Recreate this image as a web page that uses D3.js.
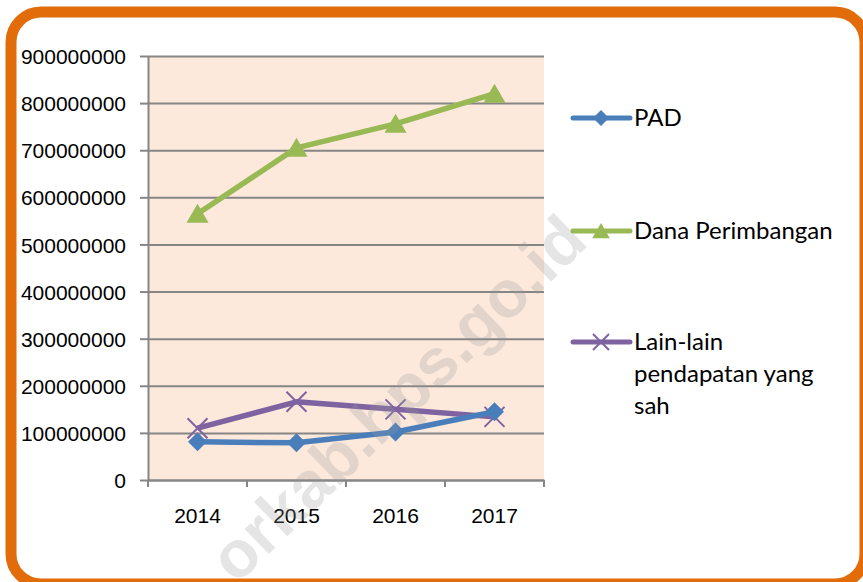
<!DOCTYPE html>
<html>
<head>
<meta charset="utf-8">
<script src="https://cdn.jsdelivr.net/npm/d3@7"></script>
<style>
  body { margin: 0; background: #fff; }
  svg { display: block; font-family: Lato, "Liberation Sans", sans-serif; }
</style>
</head>
<body>
<svg width="863" height="582"></svg>
<script>
var years = ["2014", "2015", "2016", "2017"];
var pad = [81000000, 79000000, 102000000, 145000000];
var danaPerimbangan = [565000000, 705000000, 756000000, 820000000];
var lainLain = [110000000, 166000000, 150000000, 134000000];
var yTicks = [0, 100000000, 200000000, 300000000, 400000000, 500000000, 600000000, 700000000, 800000000, 900000000];

var series = [
  {name: ["PAD"], values: pad, color: "#4a7ebb", marker: "diamond"},
  {name: ["Dana Perimbangan"], values: danaPerimbangan, color: "#98b954", marker: "triangle"},
  {name: ["Lain-lain", "pendapatan yang", "sah"], values: lainLain, color: "#7f63a1", marker: "cross"}
];

var svg = d3.select("svg");
var plot = {left: 148, right: 544, top: 56, bottom: 480};

var x = d3.scaleBand().domain(years).range([plot.left, plot.right]);
var y = d3.scaleLinear().domain([0, 900000000]).range([plot.bottom, plot.top]);

// plot background
svg.append("rect")
    .attr("x", plot.left).attr("y", plot.top)
    .attr("width", plot.right - plot.left).attr("height", plot.bottom - plot.top)
    .attr("fill", "#fce9dc");

// gridlines
svg.append("g")
    .attr("transform", "translate(" + plot.left + ",0)")
    .call(d3.axisLeft(y).tickValues(yTicks).tickSize(-(plot.right - plot.left)).tickFormat(""))
    .call(function(g) { g.select(".domain").remove(); })
    .selectAll("line").attr("stroke", "#868686").attr("stroke-width", 2);

// y axis
svg.append("g")
    .attr("transform", "translate(" + plot.left + ",0)")
    .call(d3.axisLeft(y).tickValues(yTicks).tickSize(8).tickSizeOuter(0).tickPadding(14).tickFormat(d3.format("d")))
    .call(function(g) {
      g.select(".domain").attr("stroke", "#868686").attr("stroke-width", 2);
      g.selectAll("line").attr("stroke", "#868686").attr("stroke-width", 2);
      g.selectAll("text").attr("fill", "#000").style("font-size", "21px").attr("dy", "0.36em");
    });

// x axis (ticks between categories)
svg.append("g")
    .attr("transform", "translate(0," + plot.bottom + ")")
    .call(d3.axisBottom(x).tickSize(0).tickPadding(28))
    .call(function(g) {
      g.select(".domain").attr("stroke", "#868686").attr("stroke-width", 2);
      g.selectAll("text").attr("fill", "#000").style("font-size", "21px");
    });

svg.append("g")
    .selectAll("line")
    .data(years.concat(["end"]))
    .enter().append("line")
    .attr("x1", function(d, i) { return plot.left + i * x.step(); })
    .attr("x2", function(d, i) { return plot.left + i * x.step(); })
    .attr("y1", plot.bottom)
    .attr("y2", plot.bottom + 7)
    .attr("stroke", "#868686")
    .attr("stroke-width", 2);

var line = d3.line()
    .x(function(d, i) { return x(years[i]) + x.bandwidth() / 2; })
    .y(function(d) { return y(d); });

function drawMarker(sel, type, color, r) {
  if (type === "diamond") {
    sel.append("path").attr("d", "M0," + (-r) + "L" + r + ",0L0," + r + "L" + (-r) + ",0Z").attr("fill", color);
  } else if (type === "triangle") {
    sel.append("path").attr("d", "M0," + (-r) + "L" + (r * 1.1) + "," + (r * 0.9) + "L" + (-r * 1.1) + "," + (r * 0.9) + "Z").attr("fill", color);
  } else {
    sel.append("path").attr("d", "M" + (-r) + "," + (-r) + "L" + r + "," + r + "M" + (-r) + "," + r + "L" + r + "," + (-r))
        .attr("stroke", color).attr("stroke-width", 2).attr("fill", "none");
  }
}

// draw Dana first, then Lain-lain, then PAD on top
[1, 2, 0].forEach(function(k) {
  var s = series[k];
  var g = svg.append("g");
  g.append("path")
      .attr("d", line(s.values))
      .attr("fill", "none")
      .attr("stroke", s.color)
      .attr("stroke-width", 5.5)
      .attr("stroke-linejoin", "round");
  g.selectAll(".pt")
      .data(s.values)
      .enter().append("g")
      .attr("transform", function(d, i) { return "translate(" + (x(years[i]) + x.bandwidth() / 2) + "," + y(d) + ")"; })
      .each(function() { drawMarker(d3.select(this), s.marker, s.color, s.marker === "diamond" ? 9.5 : 10); });
});

// legend
var legendY = [118, 231, 342];
var legend = svg.append("g");
series.forEach(function(s, k) {
  var item = legend.append("g").attr("transform", "translate(0," + legendY[k] + ")");
  item.append("line")
      .attr("x1", 573).attr("x2", 630)
      .attr("stroke", s.color).attr("stroke-width", 5).attr("stroke-linecap", "round");
  var m = item.append("g").attr("transform", "translate(601,0)");
  drawMarker(m, s.marker, s.color, s.marker === "diamond" ? 8 : 8);
  var t = item.append("text").attr("x", 634).attr("y", 8)
      .style("font-size", "24px").attr("fill", "#000");
  s.name.forEach(function(n, j) {
    t.append("tspan").attr("x", 634).attr("y", 8 + j * 32).text(n);
  });
});

// watermark
svg.append("text")
    .attr("transform", "translate(590,244) rotate(-44)")
    .attr("text-anchor", "end")
    .style("font-size", "66px")
    .style("font-weight", "bold")
    .style("font-family", "'Liberation Sans', sans-serif")
    .attr("fill", "#999")
    .attr("fill-opacity", 0.25)
    .text("orkab.bps.go.id");

// orange frame
svg.append("rect")
    .attr("x", 11).attr("y", 12)
    .attr("width", 854).attr("height", 572)
    .attr("rx", 30).attr("ry", 30)
    .attr("fill", "none")
    .attr("stroke", "#e36c0a")
    .attr("stroke-width", 11);
</script>
</body>
</html>
